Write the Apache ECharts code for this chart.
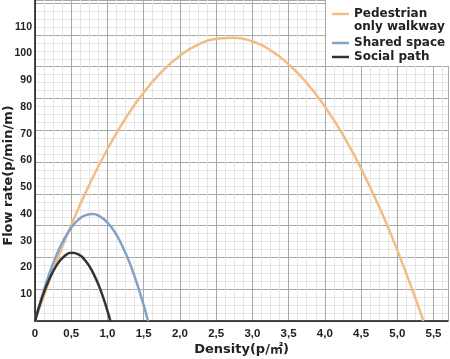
<!DOCTYPE html>
<html>
<head>
<meta charset="utf-8">
<script src="https://cdn.jsdelivr.net/npm/echarts@6/dist/echarts.min.js"></script>
<style>
html,body{margin:0;padding:0;background:#fff;}
#c{width:450px;height:359px;}
</style>
</head>
<body>
<div id="c"></div>
<script>
var seriesNames = ['Pedestrian only walkway', 'Shared space', 'Social path'];
var legendLine1 = 'Pedestrian';
var legendLine2 = 'only walkway';
var pedX = [0, 0.25, 0.5, 0.75, 1.0, 1.25, 1.5, 1.75, 2.0, 2.25, 2.5, 2.75, 3.0, 3.25, 3.5, 3.75, 4.0, 4.25, 4.5, 4.75, 5.0, 5.25, 5.36];
var pedY = [0, 18.9, 35.9, 51.0, 64.3, 75.8, 85.4, 93.2, 99.2, 103.3, 105.5, 105.9, 104.5, 101.2, 96.0, 89.0, 80.2, 69.6, 57.0, 42.7, 26.5, 8.5, 0];
var sharedX = [0, 0.1, 0.2, 0.3, 0.4, 0.5, 0.6, 0.7, 0.8, 0.9, 1.0, 1.1, 1.2, 1.3, 1.4, 1.5, 1.56];
var sharedY = [0, 9.6, 17.9, 24.9, 30.5, 34.9, 37.9, 39.6, 40.0, 39.0, 36.8, 33.3, 28.3, 22.2, 14.6, 5.9, 0];
var socialX = [0, 0.1, 0.2, 0.3, 0.4, 0.5, 0.6, 0.7, 0.8, 0.9, 1.0, 1.04];
var socialY = [0, 8.9, 15.8, 20.9, 24.1, 25.5, 24.9, 22.4, 18.1, 11.9, 3.8, 0];
var colors = ['#f1bd84', '#80a3c8', '#333333'];

function pairs(xs, ys) { return xs.map(function (x, i) { return [x, ys[i]]; }); }

var FONT = '"DejaVu Sans", "Noto Sans CJK KR", sans-serif';
var NUMFONT = '"Liberation Sans", Arial, sans-serif';
var chart = echarts.init(document.getElementById('c'));
var legendText = { fontFamily: FONT, fontSize: 12, fontWeight: 'bold', color: '#222' };
chart.setOption({
  animation: false,
  grid: { left: 35, right: 2, top: 0, bottom: 38, containLabel: false, outerBoundsMode: 'none' },
  xAxis: [{
    type: 'value', min: 0, max: 5.7, interval: 0.5,
    name: 'Density(p/㎡)', nameLocation: 'middle', nameGap: 22, nameMoveOverlap: false,
    nameTextStyle: { fontFamily: FONT, fontSize: 13, fontWeight: 'bold', color: '#222' },
    axisLine: { show: true, onZero: false, lineStyle: { color: '#111', width: 1.5 } },
    axisTick: { show: false },
    axisLabel: {
      fontFamily: NUMFONT, fontSize: 11.5, fontWeight: 'bold', color: '#222', margin: 7,
      formatter: function (v) {
        var r = Math.round(v * 2) / 2;
        if (Math.abs(r - v) > 1e-6) return '';
        return v === 0 ? '0' : v.toFixed(1).replace('.', ',');
      }
    },
    splitLine: { show: true, lineStyle: { color: '#a9a9a9', width: 1 } },
    minorTick: { show: false, splitNumber: 4 },
    minorSplitLine: { show: true, lineStyle: { color: '#e6e6e6', width: 1 } }
  }],
  yAxis: [{
    type: 'value', min: 0, max: 120, interval: 10, position: 'left',
    name: 'Flow rate(p/min/m)', nameLocation: 'middle', nameGap: 20, nameMoveOverlap: false,
    nameTextStyle: { fontFamily: FONT, fontSize: 13, fontWeight: 'bold', color: '#222', padding: [0, 30, 0, 0] },
    axisLine: { show: true, onZero: false, lineStyle: { color: '#111', width: 1.5 } },
    axisTick: { show: false },
    axisLabel: {
      fontFamily: NUMFONT, fontSize: 10.5, fontWeight: 'bold', color: '#222', margin: 3,
      formatter: function (v) { return (v === 0 || v === 120) ? '' : String(v); }
    },
    splitLine: { show: false }
  }, {
    type: 'value', min: 0, max: 10.1, interval: 1, position: 'right',
    axisLine: { show: false }, axisTick: { show: false }, axisLabel: { show: false },
    splitLine: { show: true, lineStyle: { color: '#a9a9a9', width: 1 } },
    minorTick: { show: false, splitNumber: 4 },
    minorSplitLine: { show: true, lineStyle: { color: '#e6e6e6', width: 1 } }
  }],
  graphic: [
    { type: 'rect', left: 326, top: 0, z: 3, shape: { width: 124, height: 66 }, style: { fill: '#fff' } },
    { type: 'text', left: 354, top: 21, z: 5, style: { text: legendLine2, font: 'bold 12px "DejaVu Sans", sans-serif', fill: '#222' } }
  ],
  legend: [{
    orient: 'vertical', left: 332, top: 8, padding: 0, itemGap: 2, itemWidth: 17, itemHeight: 2.5,
    icon: 'rect', textStyle: legendText, data: [seriesNames[0]],
    formatter: function () { return legendLine1; }
  }, {
    orient: 'vertical', left: 332, top: 37, padding: 0, itemGap: 2, itemWidth: 17, itemHeight: 2.5,
    icon: 'rect', textStyle: legendText, data: [seriesNames[1], seriesNames[2]]
  }],
  series: [
    { name: seriesNames[0], type: 'line', data: pairs(pedX, pedY), smooth: true, symbol: 'none',
      lineStyle: { color: colors[0], width: 2.5 }, itemStyle: { color: colors[0] } },
    { name: seriesNames[1], type: 'line', data: pairs(sharedX, sharedY), smooth: true, symbol: 'none',
      lineStyle: { color: colors[1], width: 2.5 }, itemStyle: { color: colors[1] } },
    { name: seriesNames[2], type: 'line', data: pairs(socialX, socialY), smooth: true, symbol: 'none',
      lineStyle: { color: colors[2], width: 2.5 }, itemStyle: { color: colors[2] } }
  ]
});
</script>
</body>
</html>
